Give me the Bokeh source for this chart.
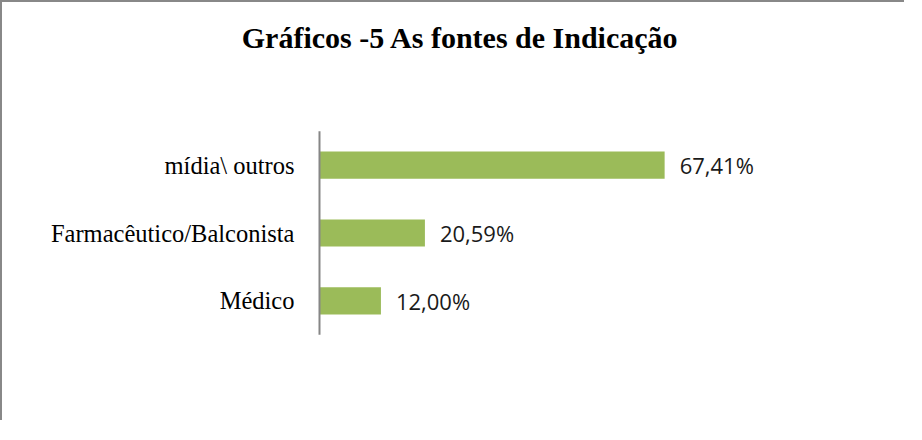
from bokeh.plotting import figure
from bokeh.models import FactorRange, Range1d, ColumnDataSource
from bokeh.core.properties import value
from bokeh.embed import file_html
from bokeh.resources import INLINE

title = "Gráficos -5 As fontes de Indicação"
categories = ["Médico", "Farmacêutico/Balconista", "mídia\\ outros"]  # bottom to top
values = [12.00, 20.59, 67.41]
value_labels = ["12,00%", "20,59%", "67,41%"]

BAR_COLOR = "#9BBB59"
AXIS_COLOR = "#868686"

src = ColumnDataSource(dict(cat=categories, val=values, lab=value_labels, zero=[0] * len(values)))

p = figure(
    width=904, height=420,
    y_range=FactorRange(*categories, range_padding=0.91, range_padding_units="absolute"),
    x_range=Range1d(-59.57, 114.65),
    output_backend="svg", toolbar_location=None,
    min_border_left=12, min_border_right=0, min_border_top=0, min_border_bottom=26,
)
p.styles = {"border-left": "2px solid #888888", "border-top": "2px solid #888888"}

p.title.text = title
p.title.align = "center"
p.title.text_font = "Liberation Serif"
p.title.text_font_style = "bold"
p.title.text_font_size = "30px"
p.title.text_color = "#000000"
p.title.standoff = 32

p.axis.visible = False
p.xgrid.visible = False
p.ygrid.visible = False
p.outline_line_color = None
p.background_fill_color = "white"
p.border_fill_color = "white"

p.hbar(y="cat", left=0, right="val", height=0.4, source=src,
       fill_color=BAR_COLOR, line_color=None)

# vertical category axis line spanning all category bands
p.segment(x0=0, y0=0, x1=0, y1=len(categories), line_color=AXIS_COLOR, line_width=2)

p.text(x="zero", y="cat", text="cat", source=src, x_offset=-25,
       text_align="right", text_baseline="middle",
       text_font=value("Liberation Serif"), text_font_size="24.5px", text_color="#000000")

p.text(x="val", y="cat", text="lab", source=src, x_offset=15,
       text_align="left", text_baseline="middle",
       text_font=value("Open Sans"), text_font_size="22px", text_color="#1a1a1a")

open("out.html", "w").write(file_html(p, INLINE))
